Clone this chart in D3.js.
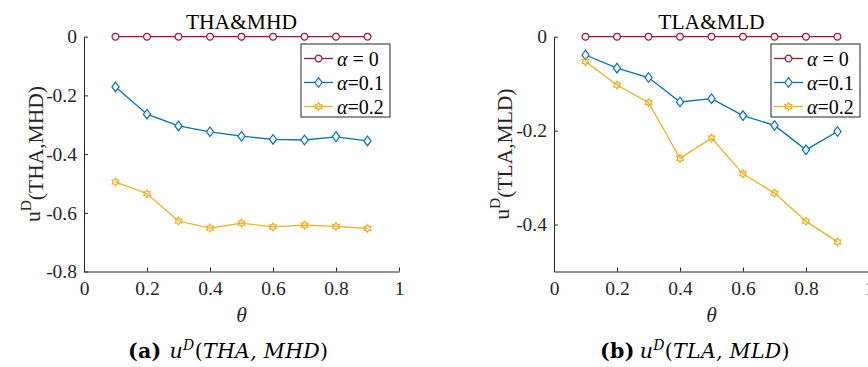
<!DOCTYPE html>
<html>
<head>
<meta charset="utf-8">
<script src="https://cdn.jsdelivr.net/npm/d3@7"></script>
<style>
  body { margin: 0; background: #fff; }
  svg { display: block; }
  .axis path, .axis line { stroke: #262626; stroke-width: 1; }
  .axis text { font-family: "Liberation Serif", "Times New Roman", serif; font-size: 19.5px; fill: #262626; }
  .title { font-family: "Liberation Serif", "Times New Roman", serif; font-size: 21.5px; fill: #000; }
  .ylab, .xlab { font-family: "Liberation Serif", "Times New Roman", serif; font-size: 21.5px; fill: #262626; }
  .legtext { font-family: "Liberation Serif", "Times New Roman", serif; font-size: 20px; fill: #000; }
  .caption { font-family: "DejaVu Serif", serif; font-size: 20.5px; letter-spacing: 0.3px; fill: #000; }
</style>
</head>
<body>
<div id="chart"></div>
<script>
// theta values (x) shared by both panels
var theta = [0.1, 0.2, 0.3, 0.4, 0.5, 0.6, 0.7, 0.8, 0.9];

// panel (a) THA&MHD
var thaAlpha0  = [0, 0, 0, 0, 0, 0, 0, 0, 0];
var thaAlpha01 = [-0.171, -0.264, -0.304, -0.324, -0.339, -0.350, -0.352, -0.341, -0.355];
var thaAlpha02 = [-0.495, -0.535, -0.628, -0.652, -0.635, -0.648, -0.642, -0.646, -0.653];

// panel (b) TLA&MLD
var tlaAlpha0  = [0, 0, 0, 0, 0, 0, 0, 0, 0];
var tlaAlpha01 = [-0.039, -0.067, -0.087, -0.139, -0.132, -0.168, -0.189, -0.241, -0.202];
var tlaAlpha02 = [-0.053, -0.103, -0.140, -0.259, -0.216, -0.292, -0.333, -0.393, -0.437];

var seriesNames = ["\u03b1 = 0", "\u03b1=0.1", "\u03b1=0.2"];

var xTicks = [0, 0.2, 0.4, 0.6, 0.8, 1];
var xTickLabels = ["0", "0.2", "0.4", "0.6", "0.8", "1"];
var yTicksA = [0, -0.2, -0.4, -0.6, -0.8];
var yTickLabelsA = ["0", "-0.2", "-0.4", "-0.6", "-0.8"];
var yTicksB = [0, -0.2, -0.4];
var yTickLabelsB = ["0", "-0.2", "-0.4"];

function init() {

    var w = 868;
    var h = 367;

    var colors = ["#A2142F", "#0072BD", "#EDB120"];
    var markers = ["circle", "diamond", "hexagram"];

    var svg = d3.select("#chart")
                .append("svg")
                .attr("width", w)
                .attr("height", h);

    // marker outlines, centred on 0,0
    function markerPath(type) {
        if (type == "circle") {
            return d3.arc()({innerRadius: 0, outerRadius: 3.4, startAngle: 0, endAngle: 2 * Math.PI});
        }
        if (type == "diamond") {
            return "M0,-4.8L3.6,0L0,4.8L-3.6,0Z";
        }
        // six pointed star
        var pts = [];
        for (var k = 0; k < 12; k++) {
            var r = (k % 2 == 0) ? 3.9 : 2.3;
            var a = (-90 + k * 30) * Math.PI / 180;
            pts.push([r * Math.cos(a), r * Math.sin(a)]);
        }
        return "M" + pts.join("L") + "Z";
    }

    function panel(opt) {

        var xScale = d3.scaleLinear()
                       .domain([0, 1])
                       .range([opt.left, opt.left + 315]);

        var yScale = d3.scaleLinear()
                       .domain(opt.yDomain)
                       .range([271.5, 36.7]);

        var xAxis = d3.axisBottom(xScale)
                      .tickValues(xTicks)
                      .tickFormat(function(d, i) { return xTickLabels[i]; })
                      .tickSizeInner(-4)
                      .tickSizeOuter(0)
                      .tickPadding(10);

        var yAxis = d3.axisLeft(yScale)
                      .tickValues(opt.yTicks)
                      .tickFormat(function(d, i) { return opt.yTickLabels[i]; })
                      .tickSizeInner(-4)
                      .tickSizeOuter(0)
                      .tickPadding(7);

        svg.append("g")
           .attr("class", "axis")
           .attr("transform", "translate(0," + yScale.range()[0] + ")")
           .call(xAxis)
           .attr("font-family", null)
           .attr("font-size", null);

        svg.append("g")
           .attr("class", "axis")
           .attr("transform", "translate(" + opt.left + ",0)")
           .call(yAxis)
           .attr("font-family", null)
           .attr("font-size", null);

        var line = d3.line()
                     .x(function(d, i) { return xScale(theta[i]); })
                     .y(function(d) { return yScale(d); });

        opt.series.forEach(function(values, s) {
            svg.append("path")
               .datum(values)
               .attr("fill", "none")
               .attr("stroke", colors[s])
               .attr("stroke-width", 1.3)
               .attr("d", line);

            svg.selectAll(null)
               .data(values)
               .enter()
               .append("path")
               .attr("transform", function(d, i) { return "translate(" + xScale(theta[i]) + "," + yScale(d) + ")"; })
               .attr("d", markerPath(markers[s]))
               .attr("fill", s == 2 ? "none" : "#fff")
               .attr("stroke", colors[s])
               .attr("stroke-width", 1.2);
        });

        // title
        svg.append("text")
           .attr("class", "title")
           .attr("x", xScale(0.5))
           .attr("y", 29)
           .attr("text-anchor", "middle")
           .text(opt.title);

        // x label
        svg.append("text")
           .attr("class", "xlab")
           .attr("x", xScale(0.5))
           .attr("y", 322)
           .attr("text-anchor", "middle")
           .attr("font-style", "italic")
           .text("\u03b8");

        // y label
        var yl = svg.append("text")
                    .attr("class", "ylab")
                    .attr("text-anchor", "middle")
                    .attr("transform", "translate(" + opt.ylabX + "," + ((yScale.range()[0] + yScale.range()[1]) / 2) + ") rotate(-90)");
        yl.append("tspan").text("u");
        yl.append("tspan").attr("dy", "-0.55em").attr("font-size", "15.5px").text("D");
        yl.append("tspan").attr("dy", "0.55em").text("(" + opt.pair + ")");

        // legend
        var lx = opt.left + 315 - 9 - 89;
        var ly = 44;
        svg.append("rect")
           .attr("x", lx)
           .attr("y", ly)
           .attr("width", 89)
           .attr("height", 73)
           .attr("fill", "#fff")
           .attr("stroke", "#262626")
           .attr("stroke-width", 1);

        seriesNames.forEach(function(name, s) {
            var cy = ly + 14.5 + s * 24;
            svg.append("line")
               .attr("x1", lx + 3)
               .attr("x2", lx + 32)
               .attr("y1", cy)
               .attr("y2", cy)
               .attr("stroke", colors[s])
               .attr("stroke-width", 1.3);
            svg.append("path")
               .attr("transform", "translate(" + (lx + 17.5) + "," + cy + ")")
               .attr("d", markerPath(markers[s]))
               .attr("fill", s == 2 ? "none" : "#fff")
               .attr("stroke", colors[s])
               .attr("stroke-width", 1.2);
            var t = svg.append("text")
                       .attr("class", "legtext")
                       .attr("x", lx + 36)
                       .attr("y", cy + 7);
            t.append("tspan").attr("font-style", "italic").text("\u03b1");
            t.append("tspan").text(name.slice(1));
        });

        // caption
        var c = svg.append("text")
                   .attr("class", "caption")
                   .attr("x", opt.capX)
                   .attr("y", 358);
        c.append("tspan").attr("font-weight", "bold").text(opt.capTag);
        c.append("tspan").attr("font-style", "italic").attr("dx", opt.capGap).text("u");
        c.append("tspan").attr("font-style", "italic").attr("font-size", "14px").attr("dy", "-8").text("D");
        c.append("tspan").attr("dy", "8").text("(");
        c.append("tspan").attr("font-style", "italic").text(opt.capPair);
        c.append("tspan").text(")");
    }

    panel({
        left: 84,
        yDomain: [-0.8, 0],
        yTicks: yTicksA,
        yTickLabels: yTickLabelsA,
        series: [thaAlpha0, thaAlpha01, thaAlpha02],
        title: "THA&MHD",
        pair: "THA,MHD",
        ylabX: 40,
        capX: 128,
        capGap: 8,
        capTag: "(a)",
        capPair: "THA, MHD"
    });

    panel({
        left: 554,
        yDomain: [-0.5, 0],
        yTicks: yTicksB,
        yTickLabels: yTickLabelsB,
        series: [tlaAlpha0, tlaAlpha01, tlaAlpha02],
        title: "TLA&MLD",
        pair: "TLA,MLD",
        ylabX: 509,
        capX: 600,
        capGap: 5,
        capTag: "(b)",
        capPair: "TLA, MLD"
    });
}

window.onload = init;
</script>
</body>
</html>
